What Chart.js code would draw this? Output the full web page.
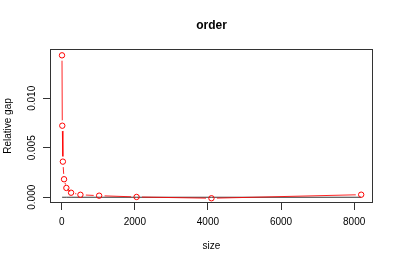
<!DOCTYPE html>
<html>
<head>
<meta charset="utf-8">
<script src="https://cdn.jsdelivr.net/npm/chart.js@4/dist/chart.umd.min.js"></script>
<style>
html,body{margin:0;padding:0;background:#fff;}
#wrap{width:399px;height:266px;}
</style>
</head>
<body>
<div id="wrap"><canvas id="c" width="399" height="266"></canvas></div>
<script>
const sizes = [8, 16, 32, 64, 128, 256, 512, 1024, 2048, 4096, 8192];
const relativeGap = [0.01434, 0.00723, 0.0036, 0.00182, 0.00094, 0.00046, 0.00025, 0.00016, 0.00003, -0.0001, 0.00026];
const zeroLine = [0, 0, 0, 0, 0, 0, 0, 0, 0, 0, 0];
const xTicks = [0, 2000, 4000, 6000, 8000];
const xTickLabels = ['0', '2000', '4000', '6000', '8000'];
const yTicks = [0, 0.005, 0.010];
const yTickLabels = ['0.000', '0.005', '0.010'];
const titleText = 'order';
const xTitle = 'size';
const yTitle = 'Relative gap';

const FONT = "'Liberation Sans', Arial, Helvetica, sans-serif";
const AXIS = '#333';
const GAP_R = 5.5;

const boxPlugin = {
  id: 'box',
  afterDraw(chart) {
    const a = chart.chartArea, ctx = chart.ctx;
    ctx.save();
    ctx.strokeStyle = AXIS;
    ctx.lineWidth = 1;
    const l = Math.round(a.left) + 0.5, t = Math.round(a.top) + 0.5;
    const r = Math.round(a.right) - 0.5, b = Math.round(a.bottom) - 0.5;
    ctx.strokeRect(l, t, r - l, b - t);
    ctx.restore();
  }
};

// R type="b": leave gaps in the connecting line around each point
const gapPlugin = {
  id: 'gaps',
  beforeDatasetDraw(chart, args) {
    if (args.index !== 1) return;
    const pts = chart.getDatasetMeta(0).data;
    const ctx = chart.ctx;
    ctx.save();
    ctx.beginPath();
    ctx.rect(0, 0, chart.width, chart.height);
    pts.forEach(p => {
      ctx.moveTo(p.x + GAP_R, p.y);
      ctx.arc(p.x, p.y, GAP_R, 0, Math.PI * 2, true);
    });
    ctx.clip('evenodd');
  },
  afterDatasetDraw(chart, args) {
    if (args.index !== 1) return;
    chart.ctx.restore();
  }
};

const gapPoints = sizes.map((s, i) => ({x: s, y: relativeGap[i]}));

new Chart(document.getElementById('c'), {
  type: 'line',
  data: {
    datasets: [
      {
        label: 'points',
        data: gapPoints,
        showLine: false,
        pointRadius: 2.7,
        pointBorderWidth: 1,
        pointBorderColor: '#ff0000',
        pointBackgroundColor: 'rgba(255,255,255,0)'
      },
      {
        label: 'Relative gap',
        data: gapPoints,
        borderColor: 'rgba(255,0,0,0.85)',
        borderWidth: 1,
        pointRadius: 0,
        fill: false,
        tension: 0
      },
      {
        label: 'zero',
        data: sizes.map((s, i) => ({x: s, y: zeroLine[i]})),
        borderColor: 'rgba(20,20,20,0.85)',
        borderWidth: 1,
        pointRadius: 0,
        fill: false,
        tension: 0
      }
    ]
  },
  options: {
    responsive: false,
    animation: false,
    layout: { padding: { left: 0, right: 26, top: 0, bottom: 0 } },
    plugins: {
      legend: { display: false },
      tooltip: { enabled: false },
      title: {
        display: true,
        text: titleText,
        fullSize: false,
        color: '#000',
        font: { family: FONT, size: 12, weight: 'bold', lineHeight: 1.2 },
        padding: { top: 18.8, bottom: 15.8 }
      }
    },
    scales: {
      x: {
        type: 'linear',
        min: -320,
        max: 8515,
        afterFit(s) { s.height = 63; },
        afterBuildTicks(s) { s.ticks = xTicks.map(v => ({value: v})); },
        ticks: {
          color: '#000',
          padding: 6,
          maxRotation: 0,
          font: { family: FONT, size: 10 },
          callback: (v, i) => xTickLabels[i]
        },
        grid: { display: true, drawOnChartArea: false, drawTicks: true, tickLength: 7, color: AXIS },
        border: { display: false },
        title: {
          display: true, text: xTitle, color: '#000',
          font: { family: FONT, size: 10, lineHeight: 1.2 },
          padding: { top: 0, bottom: 13.3 }
        }
      },
      y: {
        type: 'linear',
        min: -0.00058,
        max: 0.01498,
        afterFit(s) { s.width = 50; },
        afterBuildTicks(s) { s.ticks = yTicks.map(v => ({value: v})); },
        ticks: {
          color: '#000',
          padding: -2,
          minRotation: 90,
          maxRotation: 90,
          crossAlign: 'center',
          font: { family: FONT, size: 10 },
          callback: (v, i) => yTickLabels[i]
        },
        grid: { display: true, drawOnChartArea: false, drawTicks: true, tickLength: 7, color: AXIS },
        border: { display: false },
        title: {
          display: true, text: yTitle, color: '#000',
          font: { family: FONT, size: 10, lineHeight: 1.2 },
          padding: { top: 2.5, bottom: 0 }
        }
      }
    }
  },
  plugins: [boxPlugin, gapPlugin]
});
</script>
</body>
</html>
